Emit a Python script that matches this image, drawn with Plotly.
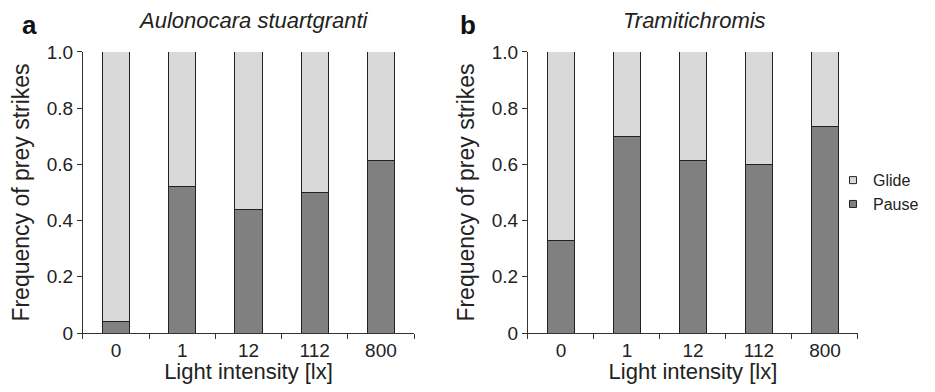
import plotly.graph_objects as go

categories = ["0", "1", "12", "112", "800"]
pause_a = [0.04, 0.52, 0.44, 0.50, 0.615]
pause_b = [0.33, 0.70, 0.615, 0.60, 0.735]
glide_a = [1 - v for v in pause_a]
glide_b = [1 - v for v in pause_b]
ytick_vals = [0, 0.2, 0.4, 0.6, 0.8, 1.0]
ytick_text = ["0", "0.2", "0.4", "0.6", "0.8", "1.0"]
legend_names = ["Glide", "Pause"]

PAUSE_C = "#808080"
GLIDE_C = "#d9d9d9"
EDGE = "#222222"
FONT = "Liberation Sans, Arial, sans-serif"

fig = go.Figure()
for xa, ya, pv, gv in [("x", "y", pause_a, glide_a), ("x2", "y2", pause_b, glide_b)]:
    fig.add_trace(go.Bar(x=categories, y=pv, name="Pause", marker=dict(color=PAUSE_C, line=dict(color=EDGE, width=1)),
                         width=0.41, xaxis=xa, yaxis=ya, showlegend=False))
    fig.add_trace(go.Bar(x=categories, y=gv, name="Glide", marker=dict(color=GLIDE_C, line=dict(color=EDGE, width=1)),
                         width=0.41, xaxis=xa, yaxis=ya, showlegend=False))

# legend entries (small squares like the original)
for name, col in zip(legend_names, [GLIDE_C, PAUSE_C]):
    fig.add_trace(go.Scatter(x=[None], y=[None], mode="markers", name=name, xaxis="x2", yaxis="y2",
                             marker=dict(symbol="square", size=7, color=col, line=dict(color=EDGE, width=1)),
                             legendgroup=name))

W, H = 919, 376
ydom = [0.1356, 0.883]
axis_common_x = dict(type="category", range=[-0.5, 4.5], showline=True, linecolor="#333", linewidth=1,
                     ticks="outside", tickson="boundaries", ticklen=5, tickcolor="#333", automargin=False,
                     tickfont=dict(size=19, color="#222", family=FONT), showgrid=False, zeroline=False,
                     title=dict(text="Light intensity [lx]", font=dict(size=22, color="#222", family=FONT), standoff=8))
axis_common_y = dict(range=[0, 1.0], domain=ydom, showline=True, linecolor="#333", linewidth=1,
                     ticks="outside", ticklen=5, tickcolor="#333", tickvals=ytick_vals, ticktext=ytick_text,
                     automargin=False,
                     tickfont=dict(size=19, color="#222", family=FONT), showgrid=False, zeroline=False,
                     title=dict(text="Frequency of prey strikes", font=dict(size=23, color="#222", family=FONT), standoff=10))

fig.update_layout(
    width=W, height=H, barmode="stack", bargap=0.59,
    plot_bgcolor="white", paper_bgcolor="white",
    margin=dict(l=0, r=0, t=0, b=0, autoexpand=False),
    font=dict(family=FONT, color="#222"),
    xaxis=dict(axis_common_x, domain=[0.0816, 0.4418], anchor="y"),
    yaxis=dict(axis_common_y, anchor="x"),
    xaxis2=dict(axis_common_x, domain=[0.5658, 0.9249], anchor="y2"),
    yaxis2=dict(axis_common_y, anchor="x2"),
    legend=dict(x=0.8977, y=0.51, xanchor="left", yanchor="middle", traceorder="normal",
                font=dict(size=16, color="#222", family=FONT), itemwidth=30, tracegroupgap=5,
                bgcolor="rgba(0,0,0,0)"),
    annotations=[
        dict(text="<b>a</b>", x=0.013, y=0.955, xref="paper", yref="paper", showarrow=False,
             font=dict(size=26, color="#111", family=FONT), xanchor="left", yanchor="middle"),
        dict(text="<i>Aulonocara stuartgranti</i>", x=0.2666, y=0.968, xref="paper", yref="paper", showarrow=False,
             font=dict(size=22, color="#222", family=FONT), xanchor="center", yanchor="middle"),
        dict(text="<b>b</b>", x=0.490, y=0.955, xref="paper", yref="paper", showarrow=False,
             font=dict(size=26, color="#111", family=FONT), xanchor="left", yanchor="middle"),
        dict(text="<i>Tramitichromis</i>", x=0.7465, y=0.968, xref="paper", yref="paper", showarrow=False,
             font=dict(size=22, color="#222", family=FONT), xanchor="center", yanchor="middle"),
    ],
)

fig.write_html("out.html")
